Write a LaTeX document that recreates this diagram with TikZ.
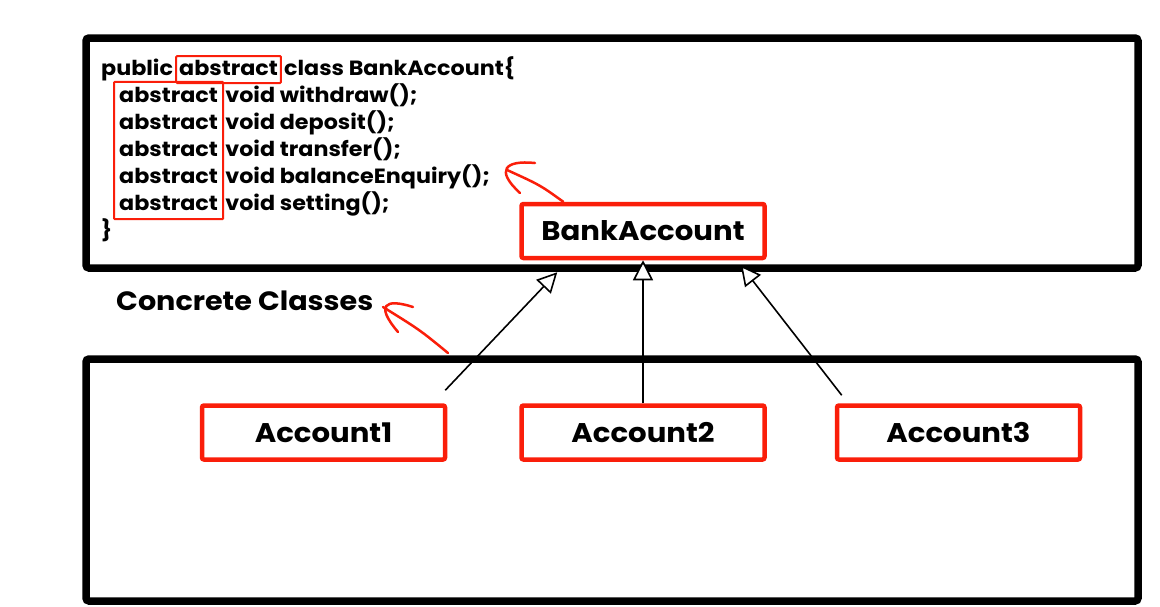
\documentclass[tikz,border=0pt]{standalone}
\usepackage{fontspec}
\setmainfont{Poppins}[FakeStretch=1.08]
\usetikzlibrary{arrows.meta, positioning, fit}
\definecolor{markred}{RGB}{250,30,10}
\tikzset{
  frame/.style={line width=7.5pt, rounded corners=3pt},
  cls/.style={draw=markred, line width=4.5pt, rounded corners=2pt, minimum width=243pt, minimum height=54pt, font=\fontsize{27}{32}\selectfont\bfseries},
  code/.style={inner sep=0pt, text height=16pt, text depth=5pt, font=\fontsize{20.6}{25}\selectfont\bfseries},
  kwbox/.style={draw=markred, line width=2pt, rounded corners=1pt},
  inherit/.style={-{Triangle[fill=white, length=20pt, width=20pt]}, line width=1.6pt},
  scribble/.style={draw=markred, line width=2.5pt, line cap=round},
}
\begin{document}
\begin{tikzpicture}[x=1pt, y=-1pt]
  \useasboundingbox (0,0) rectangle (1160,606);

  % the two frames
  \draw[frame] (86,38) rectangle (1138,268);
  \draw[frame] (86,359) rectangle (1138,601);

  % abstract class code
  \node[code, anchor=base west] (pub) at (101,75) {public};
  \node[code, kwbox, anchor=base west, inner xsep=3pt, inner ysep=3pt] (kw0) at ([xshift=2pt]pub.base east) {abstract};
  \node[code, anchor=base west] (cls) at ([xshift=2pt]kw0.base east) {class BankAccount\{};
  \foreach \m [count=\i] in {withdraw, deposit, transfer, balanceEnquiry, setting} {
    \node[code, anchor=base west] (kw\i) at (119,{75+27*\i}) {abstract};
    \node[code, anchor=base west] (m\i) at ([xshift=7pt]kw\i.base east) {void \m();};
  }
  \node[code, anchor=base west] (close) at (101,237) {\}};
  \node[kwbox, fit=(kw1)(kw5), inner xsep=5pt, inner ysep=4pt] (kwcol) {};

  % classes
  \node[cls] (bank) at (643,231) {BankAccount};
  \node[cls, below=143pt of bank] (acc2) {Account2};
  \node[cls, left=72pt of acc2] (acc1) {Account1};
  \node[cls, right=68pt of acc2] (acc3) {Account3};

  \node[anchor=base west, inner sep=0pt, font=\fontsize{26.5}{30}\selectfont\bfseries] (concrete) at (116,310) {Concrete Classes};

  % inheritance
  \coordinate (tail1) at ([xshift=-2pt, yshift=13pt]acc1.north east);
  \coordinate (tip1) at ([xshift=38pt, yshift=-12pt]bank.south west);
  \coordinate (tail3) at ([xshift=7pt, yshift=8pt]acc3.north west);
  \coordinate (tip3) at ([xshift=-26pt, yshift=-5pt]bank.south east);
  \draw[inherit] (tail1) -- (tip1);
  \draw[inherit] (acc2.north) -- (bank.south);
  \draw[inherit] (tail3) -- (tip3);

  % hand drawn marks
  \draw[scribble] ([xshift=44pt]bank.north west) .. controls (540,185) .. (507,170);
  \draw[scribble] (535,163) .. controls (505,160) and (495,170) .. (520,193);
  \draw[scribble] (448,353) .. controls (420,330) .. (383,307);
  \draw[scribble] (413,307) .. controls (385,298) and (375,305) .. (398,332);
\end{tikzpicture}
\end{document}
